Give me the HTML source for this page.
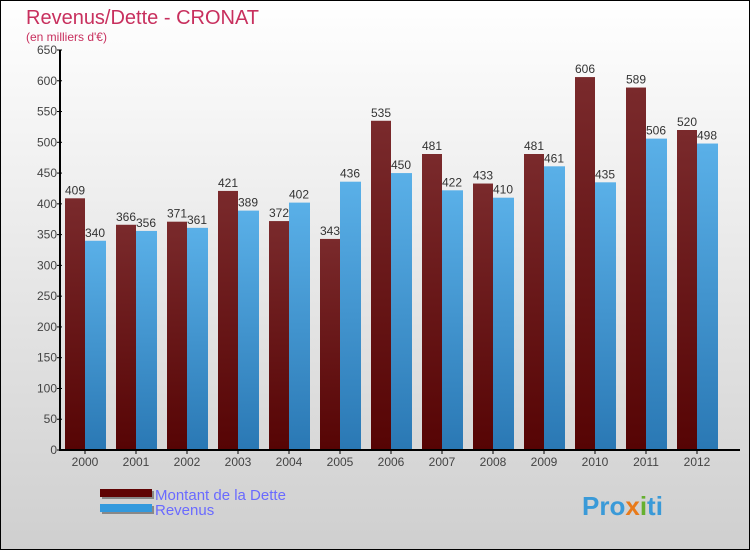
<!DOCTYPE html>
<html><head><meta charset="utf-8"><style>
body{margin:0;}
#c{width:750px;height:550px;position:relative;font-family:"Liberation Sans",sans-serif;}
svg text{font-family:"Liberation Sans",sans-serif;}
</style></head><body>
<div id="c">
<svg id="s" width="750" height="550" xmlns="http://www.w3.org/2000/svg">
<defs>
<linearGradient id="bg" x1="0" y1="0" x2="0" y2="1"><stop offset="0" stop-color="#ffffff"/><stop offset="1" stop-color="#cfcfcf"/></linearGradient>
<linearGradient id="gd" x1="0" y1="0" x2="0" y2="1"><stop offset="0" stop-color="#7a2a2c"/><stop offset="1" stop-color="#560404"/></linearGradient>
<linearGradient id="gr" x1="0" y1="0" x2="0" y2="1"><stop offset="0" stop-color="#5ab0e8"/><stop offset="1" stop-color="#2a78b4"/></linearGradient>
</defs>
<rect x="0.5" y="0.5" width="749" height="549" fill="url(#bg)" stroke="#000"/>
<text x="26" y="24" font-size="20" fill="#c8305e">Revenus/Dette - CRONAT</text>
<text x="26" y="41" font-size="12" fill="#c8305e">(en milliers d'€)</text>
<g id="plot"></g>
<g>
<rect x="102" y="491" width="52" height="8" fill="#888"/><rect x="100" y="489" width="52" height="8" fill="#600404"/>
<text x="155" y="500" font-size="15" fill="#6a6aff">Montant de la Dette</text>
<rect x="102" y="506" width="52" height="8" fill="#888"/><rect x="100" y="504" width="52" height="8" fill="#3399dd"/>
<text x="155" y="515" font-size="15" fill="#6a6aff">Revenus</text>
</g>
<text x="582" y="515" font-size="26" font-weight="bold" fill="#3a9ad8">Pro<tspan fill="#e87a1a">x</tspan><tspan fill="#66b030">i</tspan>ti</text>
</svg>
</div>
<script>
const years=["2000","2001","2002","2003","2004","2005","2006","2007","2008","2009","2010","2011","2012"];
const dette=[409,366,371,421,372,343,535,481,433,481,606,589,520];
const revenus=[340,356,361,389,402,436,450,422,410,461,435,506,498];
const ticks=[0,50,100,150,200,250,300,350,400,450,500,550,600,650];
const NS="http://www.w3.org/2000/svg";
const g=document.getElementById('plot');
const y0=450,ppu=400/650,x0=60;
function y(v){return y0-v*ppu;}
function xc(i){return 85+i*51;}
function mk(t,a){const e=document.createElementNS(NS,t);for(const k in a)e.setAttribute(k,a[k]);g.appendChild(e);return e;}
dette.forEach((v,i)=>{
  const r=mk('rect',{x:xc(i)-20,y:y(v),width:20,height:y0-y(v),fill:'url(#gd)'});
  
  
  const t=mk('text',{x:xc(i)-10,y:y(v)-4,'font-size':12,fill:'#333','text-anchor':'middle'});t.textContent=v;
  
  
});
revenus.forEach((v,i)=>{
  const r=mk('rect',{x:xc(i),y:y(v),width:21,height:y0-y(v),fill:'url(#gr)'});
  
  
  const t=mk('text',{x:xc(i)+10,y:y(v)-4,'font-size':12,fill:'#333','text-anchor':'middle'});t.textContent=v;
  
  
});
const ax=mk('path',{d:`M${x0} ${y(650)}V${y0}H740`,stroke:'#000','stroke-width':2,fill:'none'});


ticks.forEach(v=>{
  mk('line',{x1:x0-3,x2:x0+2,y1:y(v),y2:y(v),stroke:'#000'});
  const t=mk('text',{x:x0-3,y:y(v)+4,'font-size':12,fill:'#444','text-anchor':'end'});t.textContent=v;
  
  
});
years.forEach((s,i)=>{
  mk('line',{x1:xc(i),x2:xc(i),y1:y0,y2:y0+4,stroke:'#000'});
  const t=mk('text',{x:xc(i),y:y0+16,'font-size':12,fill:'#444','text-anchor':'middle'});t.textContent=s;
  
  
});
</script>
</body></html>
